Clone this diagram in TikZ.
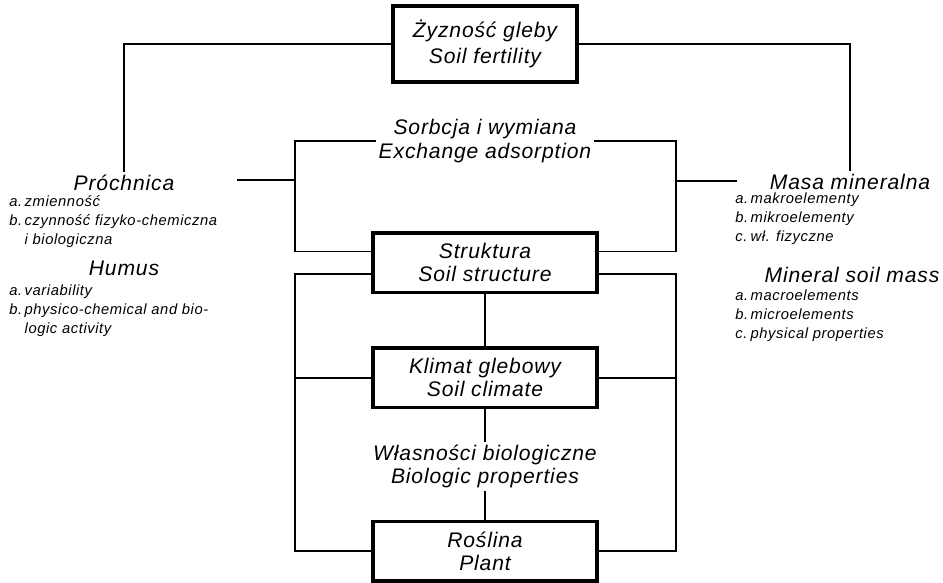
\documentclass[tikz,border=0pt]{standalone}
\usepackage{fontspec}
\setmainfont{Liberation Sans}[LetterSpace=4]
\newcommand{\bigtext}{\fontsize{15}{16.4}\selectfont\itshape}
\newcommand{\smalltext}{\fontsize{10.5}{13.5}\selectfont\itshape}

\tikzstyle{topbox} = [rectangle, minimum width=4.6cm, minimum height=1.9cm, text centered, align=center, draw=black, line width=2.4pt, font=\bigtext]
\tikzstyle{factor} = [rectangle, minimum width=5.6cm, minimum height=1.48cm, text centered, align=center, draw=black, line width=2.4pt, font=\bigtext]
\tikzstyle{midtext} = [align=center, font=\bigtext, inner sep=2pt]
\tikzstyle{head} = [font=\bigtext, inner sep=2pt]
\tikzstyle{items} = [font=\smalltext, align=left, inner sep=0pt, anchor=north west]
\tikzstyle{link} = [line width=1.3pt]

\begin{document}
\begin{tikzpicture}[x=0.025cm, y=-0.025cm, node distance=2.4cm]
\useasboundingbox (0,0) rectangle (943,583);

% central column
\node (fert) [topbox] at (485,44) {Żyzność gleby\\[2pt] Soil fertility};
\node (sorb) [midtext, below of=fert, node distance=2.425cm] {Sorbcja i wymiana\\ Exchange adsorption};
\node (strukt) [factor, below of=sorb, node distance=3.04cm] {Struktura\\ Soil structure};
\node (klimat) [factor, below of=strukt, node distance=2.875cm] {Klimat glebowy\\ Soil climate};
\node (bio) [midtext, below of=klimat, node distance=2.21cm] {Własności biologiczne\\ Biologic properties};
\node (roslina) [factor, below of=bio, node distance=2.13cm] {Roślina\\ Plant};

% left side
\node (prochnica) [head] at (124,183) {Próchnica};
\node (prochlist) [items] at (9,193) {\begin{tabular}{@{}l@{\,}l@{}}
a. & zmienność\\
b. & czynność fizyko-chemiczna\\
 & i biologiczna
\end{tabular}};
\node (humus) [head] at (124,268) {Humus};
\node (humuslist) [items] at (9,282) {\begin{tabular}{@{}l@{\,}l@{}}
a. & variability\\
b. & physico-chemical and bio-\\
 & logic activity
\end{tabular}};

% right side
\node (masa) [head] at (850,182) {Masa mineralna};
\node (masalist) [items] at (735,190) {\begin{tabular}{@{}l@{\,}l@{}}
a. & makroelementy\\
b. & mikroelementy\\
c. & wł. fizyczne
\end{tabular}};
\node (mineral) [head] at (852,275) {Mineral soil mass};
\node (minerallist) [items] at (735,287) {\begin{tabular}{@{}l@{\,}l@{}}
a. & macroelements\\
b. & microelements\\
c. & physical properties
\end{tabular}};

\coordinate (lbend) at (295,142);
\coordinate (rbend) at (676,142);
\coordinate (lstub) at (237,180);
\coordinate (rstub) at (737,181);

\draw [link] (fert.west) -| (prochnica.north);
\draw [link] (fert.east) -| (masa.north);
\draw [link] (sorb.west) -- (sorb.west -| lbend) |- ([yshift=0.28cm]strukt.west);
\draw [link] (sorb.east) -- (sorb.east -| rbend) |- ([yshift=0.28cm]strukt.east);
\draw [link] (lstub) -- (lstub -| lbend);
\draw [link] (rstub) -- (rstub -| rbend);
\draw [link] ([yshift=-0.28cm]strukt.west) -| (roslina.west -| lbend) -- (roslina.west);
\draw [link] ([yshift=-0.28cm]strukt.east) -| (roslina.east -| rbend) -- (roslina.east);
\draw [link] (klimat.west) -- (klimat.west -| lbend);
\draw [link] (klimat.east) -- (klimat.east -| rbend);
\draw [link] (strukt) -- (klimat);
\draw [link] (klimat) -- (bio);
\draw [link] (bio) -- (roslina);
\end{tikzpicture}
\end{document}
